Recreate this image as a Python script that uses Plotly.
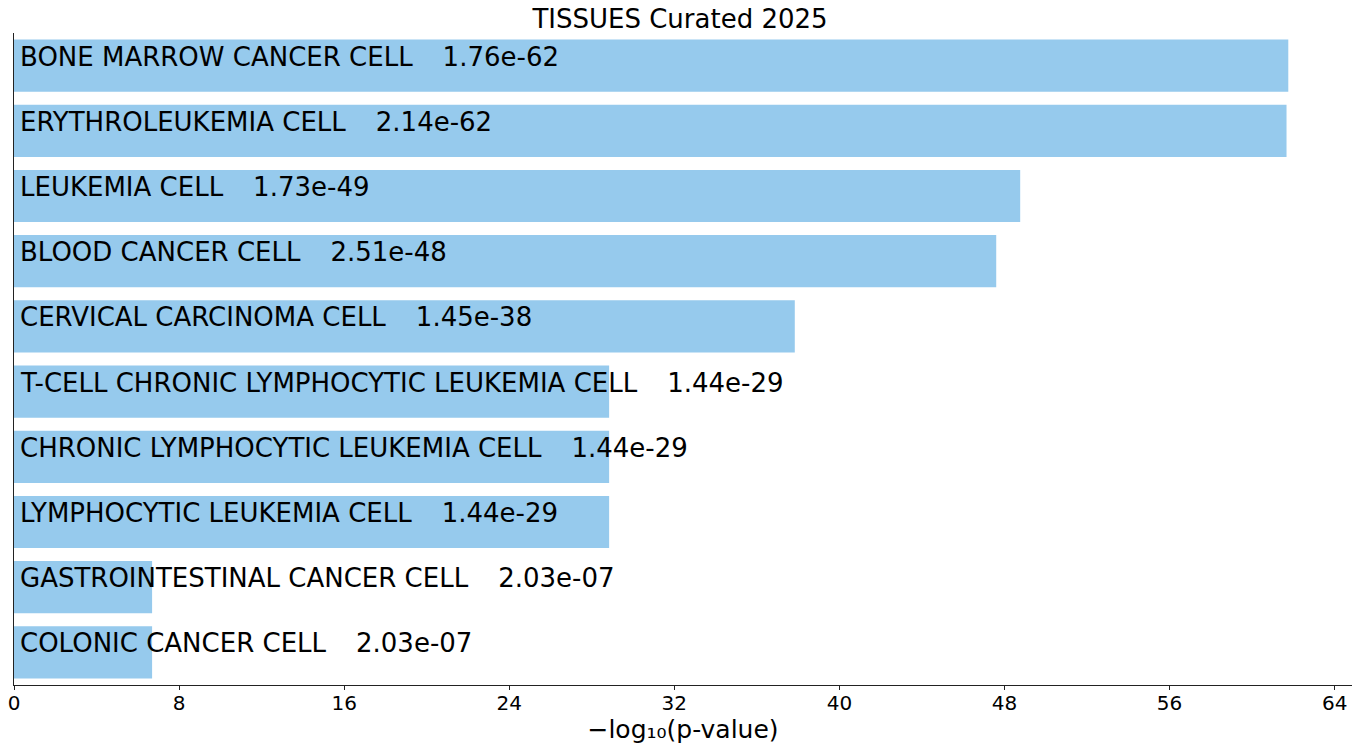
import plotly.graph_objects as go
import math

terms = [
    "BONE MARROW CANCER CELL",
    "ERYTHROLEUKEMIA CELL",
    "LEUKEMIA CELL",
    "BLOOD CANCER CELL",
    "CERVICAL CARCINOMA CELL",
    "T-CELL CHRONIC LYMPHOCYTIC LEUKEMIA CELL",
    "CHRONIC LYMPHOCYTIC LEUKEMIA CELL",
    "LYMPHOCYTIC LEUKEMIA CELL",
    "GASTROINTESTINAL CANCER CELL",
    "COLONIC CANCER CELL",
]
pvalue_labels = ["1.76e-62", "2.14e-62", "1.73e-49", "2.51e-48", "1.45e-38",
                 "1.44e-29", "1.44e-29", "1.44e-29", "2.03e-07", "2.03e-07"]
pvalues = [float(p) for p in pvalue_labels]
scores = [-math.log10(p) for p in pvalues]
xticks = [0, 8, 16, 24, 32, 40, 48, 56, 64]

FONT = "DejaVu Sans"
BAR = "#96CAED"
GAP = "\u00a0\u00a0\u00a0\u2009"

fig = go.Figure()
fig.add_trace(go.Bar(
    x=scores, y=list(range(len(terms))), orientation="h",
    marker=dict(color=BAR, line=dict(width=0)), width=0.8,
    hoverinfo="skip",
))

for i, (t, p) in enumerate(zip(terms, pvalue_labels)):
    fig.add_annotation(
        x=0, y=i, xref="x", yref="y",
        text=t + GAP + p,
        showarrow=False, xanchor="left", yanchor="bottom",
        xshift=4, yshift=-8,
        font=dict(family=FONT, size=26, color="black"),
    )

xmax = max(scores) * 1.05
fig.update_layout(
    width=1360, height=746,
    margin=dict(l=14, r=8, t=33, b=61, autoexpand=False),
    paper_bgcolor="white", plot_bgcolor="white",
    showlegend=False,
    title=dict(text="TISSUES Curated 2025", x=0.5, xanchor="center",
               y=1 - 19 / 746, yanchor="middle", automargin=False,
               font=dict(family=FONT, size=26, color="black")),
    xaxis=dict(range=[0, xmax], tickvals=xticks, ticks="outside", ticklen=4,
               ticklabelstandoff=-4,
               tickcolor="#222", showline=True, linecolor="#222", linewidth=1,
               showgrid=False, zeroline=False, automargin=False,
               tickfont=dict(family=FONT, size=20, color="black"),
               title=dict(text="\u2212log\u2081\u2080(p-value)", standoff=0,
                          font=dict(family=FONT, size=25, color="black"))),
    yaxis=dict(range=[len(terms) - 0.5, -0.5], showticklabels=False, ticks="",
               showline=True, linecolor="#222", linewidth=1,
               showgrid=False, zeroline=False, automargin=False),
)

fig.write_html("out.html", config={"displayModeBar": False},
               post_script="document.body.style.margin='0';")
